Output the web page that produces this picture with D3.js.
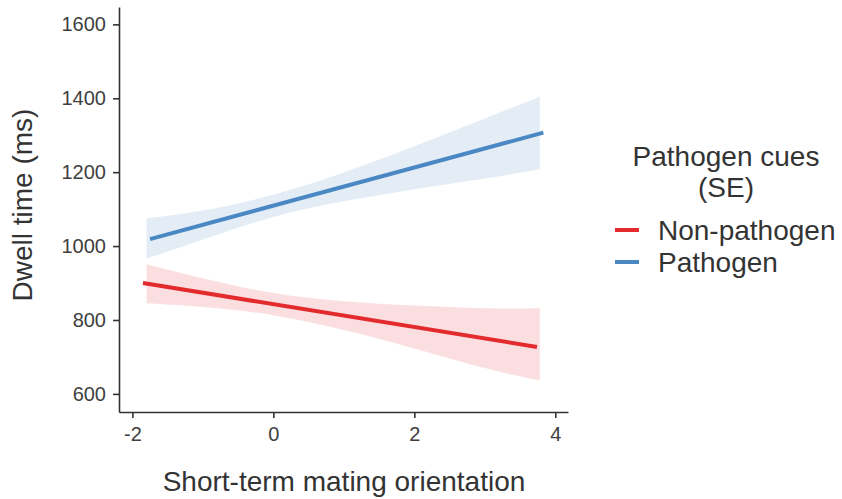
<!DOCTYPE html>
<html>
<head>
<meta charset="utf-8">
<script src="https://cdn.jsdelivr.net/npm/d3@7"></script>
<style>
  body { margin: 0; background: #fff; }
  text { font-family: "Liberation Sans", Arial, Helvetica, sans-serif; }
</style>
</head>
<body>
<svg width="842" height="499"></svg>
<script>
// Data
const groups = ["Non-pathogen", "Pathogen"];
const colors = ["#E32B2D", "#4A88C4"];

// fitted lines (start/end)
const lineX = [[-1.85, 3.74], [-1.75, 3.83]];
const lineY = [[900, 727], [1019, 1307]];

// SE ribbons
const bandX = [-1.8, -1, 0, 1, 2, 3, 3.78];
const nonPathLow  = [845, 835, 813, 773, 723, 670, 636];
const nonPathHigh = [951, 913, 873, 851, 839, 832, 832];
const pathLow  = [966, 1018, 1079, 1121, 1154, 1183, 1208];
const pathHigh = [1075, 1096, 1139, 1199, 1270, 1345, 1404];
const bandLow = [nonPathLow, pathLow];
const bandHigh = [nonPathHigh, pathHigh];

const xTicks = [-2, 0, 2, 4];
const yTicks = [600, 800, 1000, 1200, 1400, 1600];

const svg = d3.select("svg");

const x = d3.scaleLinear().domain([-2.19, 4.18]).range([119, 568]);
const y = d3.scaleLinear().domain([551, 1647]).range([412, 7]);

// ribbons
groups.forEach((g, i) => {
  const area = d3.area()
    .curve(d3.curveNatural)
    .x((d, j) => x(bandX[j]))
    .y0((d, j) => y(bandLow[i][j]))
    .y1((d, j) => y(bandHigh[i][j]));
  svg.append("path")
    .datum(bandX)
    .attr("fill", colors[i])
    .attr("fill-opacity", 0.15)
    .attr("d", area);
});

// lines
groups.forEach((g, i) => {
  const pts = lineX[i].map((v, j) => [v, lineY[i][j]]);
  svg.append("path")
    .datum(pts)
    .attr("fill", "none")
    .attr("stroke", colors[i])
    .attr("stroke-width", 4)
    .attr("d", d3.line().x(d => x(d[0])).y(d => y(d[1])));
});

// axes
const xAxis = svg.append("g")
  .attr("transform", "translate(0,412)")
  .call(d3.axisBottom(x).tickValues(xTicks).tickFormat(d => String(d))
    .tickSize(6).tickPadding(9).tickSizeOuter(0));
const yAxis = svg.append("g")
  .attr("transform", "translate(119,0)")
  .call(d3.axisLeft(y).tickValues(yTicks).tickFormat(d => String(d))
    .tickSize(6).tickPadding(7).tickSizeOuter(0));

[xAxis, yAxis].forEach(a => {
  a.select(".domain").attr("stroke", "#333").attr("stroke-width", 1.6);
  a.selectAll(".tick line").attr("stroke", "#333").attr("stroke-width", 1.6);
  a.selectAll(".tick text")
    .attr("fill", "#404040")
    .style("font-size", "20px");
});

// axis titles
svg.append("text")
  .attr("x", 344)
  .attr("y", 491)
  .attr("text-anchor", "middle")
  .attr("fill", "#333")
  .style("font-size", "28px")
  .text("Short-term mating orientation");

svg.append("text")
  .attr("transform", "translate(32,205) rotate(-90)")
  .attr("text-anchor", "middle")
  .attr("fill", "#333")
  .style("font-size", "28px")
  .text("Dwell time (ms)");

// legend
svg.append("text")
  .attr("x", 726)
  .attr("y", 166)
  .attr("text-anchor", "middle")
  .attr("fill", "#333")
  .style("font-size", "28px")
  .text("Pathogen cues");
svg.append("text")
  .attr("x", 726)
  .attr("y", 197)
  .attr("text-anchor", "middle")
  .attr("fill", "#333")
  .style("font-size", "28px")
  .text("(SE)");

const legend = svg.selectAll(".key")
  .data(groups)
  .enter()
  .append("g")
  .attr("class", "key")
  .attr("transform", (d, i) => `translate(0,${230 + i * 32})`);
legend.append("line")
  .attr("x1", 615).attr("x2", 639)
  .attr("stroke", (d, i) => colors[i])
  .attr("stroke-width", 4);
legend.append("text")
  .attr("x", 658)
  .attr("y", 10)
  .attr("fill", "#333")
  .style("font-size", "28px")
  .text(d => d);
</script>
</body>
</html>
